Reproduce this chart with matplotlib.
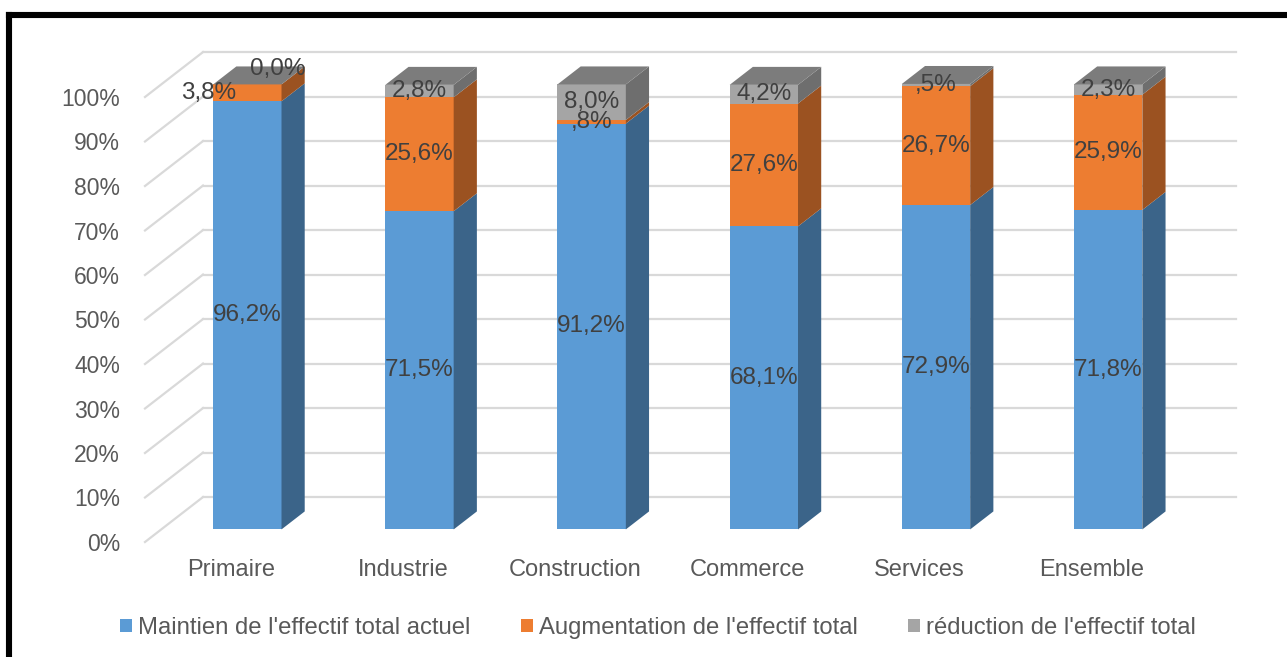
import matplotlib
matplotlib.use("Agg")
import matplotlib.pyplot as plt
from matplotlib.patches import Polygon
from matplotlib.lines import Line2D

plt.rcParams['font.family'] = ['Liberation Sans', 'DejaVu Sans']

# data
categories = ["Primaire", "Industrie", "Construction", "Commerce", "Services", "Ensemble"]
maintien = [96.2, 71.5, 91.2, 68.1, 72.9, 71.8]
augmentation = [3.8, 25.6, 0.8, 27.6, 26.7, 25.9]
reduction = [0.0, 2.8, 8.0, 4.2, 0.5, 2.3]
series_names = ["Maintien de l'effectif total actuel",
                "Augmentation de l'effectif total",
                "réduction de l'effectif total"]
y_ticks = [0, 10, 20, 30, 40, 50, 60, 70, 80, 90, 100]

front_cols = ["#5B9BD5", "#ED7D31", "#A5A5A5"]
side_cols = ["#3B6489", "#9B5221", "#6E6E6E"]
top_cols = ["#4A7DAB", "#BF6428", "#7C7C7C"]

W, H = 1287, 657
fig = plt.figure(figsize=(W / 100, H / 100), dpi=100)
ax = fig.add_axes([145 / W, (H - 542) / H, 1033 / W, 445 / H])
ax.set_xlim(0, len(categories))
ax.set_ylim(0, 100)

# depth of the 3d box in data units (x in categories, y in percent)
DX, DY = 0.337, 10.1
z0, z1 = 0.28, 0.68
bw = 0.397


def fmt(v):
    s = f"{v:.1f}".replace(".", ",")
    if 0 < v < 1:
        s = s[1:]
    return s + "%"


# grid: back wall + slanted lines on the side wall
for t in y_ticks:
    ax.add_line(Line2D([0, DX], [t, t + DY], color="#D9D9D9", lw=1.6, zorder=1, clip_on=False))
    ax.add_line(Line2D([DX, len(categories) + DX], [t + DY, t + DY], color="#D9D9D9", lw=1.6,
                       zorder=1, clip_on=False))

label_offsets = {(0, 1): (-39, 0), (0, 2): (30, 15)}

for i in range(len(categories)):
    vals = [maintien[i], augmentation[i], reduction[i]]
    xl = i + 0.5 - bw / 2 + z0 * DX
    xr = i + 0.5 + bw / 2 + z0 * DX
    ddx = (z1 - z0) * DX
    ddy = (z1 - z0) * DY
    base = z0 * DY
    bottom = 0
    for s, v in enumerate(vals):
        y0 = base + bottom
        y1 = base + bottom + v
        front = Polygon([(xl, y0), (xr, y0), (xr, y1), (xl, y1)], closed=True,
                        facecolor=front_cols[s], edgecolor="none", zorder=3, clip_on=False)
        side = Polygon([(xr, y0), (xr + ddx, y0 + ddy), (xr + ddx, y1 + ddy), (xr, y1)], closed=True,
                       facecolor=side_cols[s], edgecolor="none", zorder=3, clip_on=False)
        ax.add_patch(front)
        ax.add_patch(side)
        if s == len(vals) - 1:
            top = Polygon([(xl, y1), (xr, y1), (xr + ddx, y1 + ddy), (xl + ddx, y1 + ddy)], closed=True,
                          facecolor=top_cols[s], edgecolor="none", zorder=3, clip_on=False)
            ax.add_patch(top)
        off = label_offsets.get((i, s), (0, 0))
        ax.annotate(fmt(v), ((xl + xr) / 2, (y0 + y1) / 2), xytext=off, textcoords="offset pixels",
                    ha="center", va="center", fontsize=17.5, color="#404040", zorder=5,
                    annotation_clip=False)
        bottom += v

for sp in ax.spines.values():
    sp.set_visible(False)
ax.set_yticks(y_ticks)
ax.set_yticklabels([f"{t}%" for t in y_ticks])
ax.set_xticks([i + 0.5 for i in range(len(categories))])
ax.set_xticklabels(categories)
ax.tick_params(axis="y", length=0, pad=18, labelsize=16.5, labelcolor="#595959")
ax.tick_params(axis="x", length=0, pad=12, labelsize=17, labelcolor="#595959")
ax.set_facecolor("none")

handles = [plt.Rectangle((0, 0), 1, 1, facecolor=c, edgecolor="none") for c in front_cols]
fig.legend(handles, series_names, loc="center", bbox_to_anchor=(658 / W, 1 - 628 / H), ncol=3,
           frameon=False, fontsize=17.2, labelcolor="#595959", handlelength=0.5, handleheight=0.5,
           handletextpad=0.25, columnspacing=2.1)

# black frame (top and left sides visible)
fig.add_artist(Line2D([9 / W, 1.0], [1 - 15 / H, 1 - 15 / H], transform=fig.transFigure,
                      color="black", lw=4.4, solid_capstyle="projecting"))
fig.add_artist(Line2D([9 / W, 9 / W], [1 - 15 / H, 0.0], transform=fig.transFigure,
                      color="black", lw=4.4, solid_capstyle="projecting"))

fig.savefig("out.png", dpi=100, facecolor="white")
